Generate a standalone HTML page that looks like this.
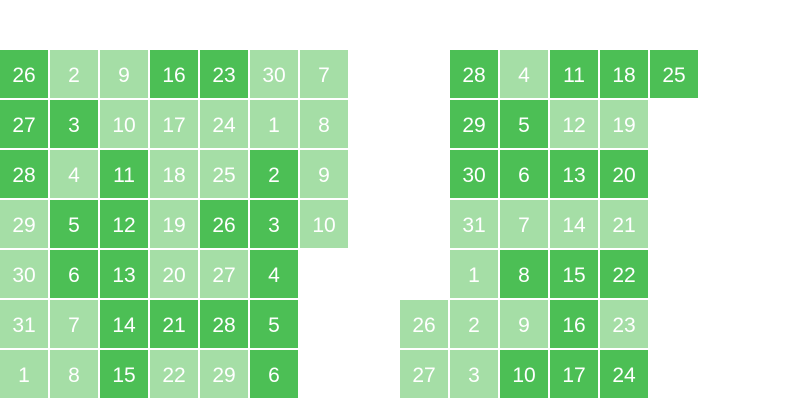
<!DOCTYPE html>
<html><head><meta charset="utf-8">
<style>
html,body{margin:0;padding:0;background:#fff;width:800px;height:400px;overflow:hidden}
svg{display:block}
text{font-family:"Liberation Sans",sans-serif;font-size:21px;fill:#fff}
</style></head>
<body>
<svg id="chart" width="800" height="400" viewBox="0 0 800 400"></svg>
<script>
// Left block: column-major fill starting at column 0, row 0
const leftDays = [26,27,28,29,30,31,1, 2,3,4,5,6,7,8, 9,10,11,12,13,14,15, 16,17,18,19,20,21,22, 23,24,25,26,27,28,29, 30,1,2,3,4,5,6, 7,8,9,10];
const leftLevels = [1,1,1,0,0,0,0, 0,1,0,1,1,0,0, 0,0,1,1,1,1,1, 1,0,0,0,0,1,0, 1,0,0,1,0,1,0, 0,0,1,1,1,1,1, 0,0,0,0];
// Right block: column-major fill starting at column 8, row 5
const rightDays = [26,27, 28,29,30,31,1,2,3, 4,5,6,7,8,9,10, 11,12,13,14,15,16,17, 18,19,20,21,22,23,24, 25];
const rightLevels = [0,0, 1,1,1,0,0,0,0, 0,1,1,0,1,0,1, 1,0,1,0,1,1,1, 1,0,1,0,1,0,1, 1];
const colors = ["#a5dea6","#4cbf55"];
const cell = 50, top0 = 50;
const svg = document.getElementById('chart');
const NS = "http://www.w3.org/2000/svg";
function drawBlock(days, levels, startCol, startRow, name){
  days.forEach((d,i)=>{
    const idx = startRow + i;
    const col = startCol + Math.floor(idx/7);
    const row = idx % 7;
    const x = col*cell, y = top0 + row*cell;
    const g = document.createElementNS(NS,'g');
    
    
    const r = document.createElementNS(NS,'rect');
    r.setAttribute('x', x); r.setAttribute('y', y);
    r.setAttribute('width', cell-2); r.setAttribute('height', cell-2);
    r.setAttribute('fill', colors[levels[i]]);
    
    
    const t = document.createElementNS(NS,'text');
    t.setAttribute('x', x+24); t.setAttribute('y', y+32);
    t.setAttribute('text-anchor','middle');
    
    
    t.textContent = d;
    g.appendChild(r); g.appendChild(t); svg.appendChild(g);
  });
}
drawBlock(leftDays, leftLevels, 0, 0, 'left-block');
drawBlock(rightDays, rightLevels, 8, 5, 'right-block');
</script>
</body></html>
